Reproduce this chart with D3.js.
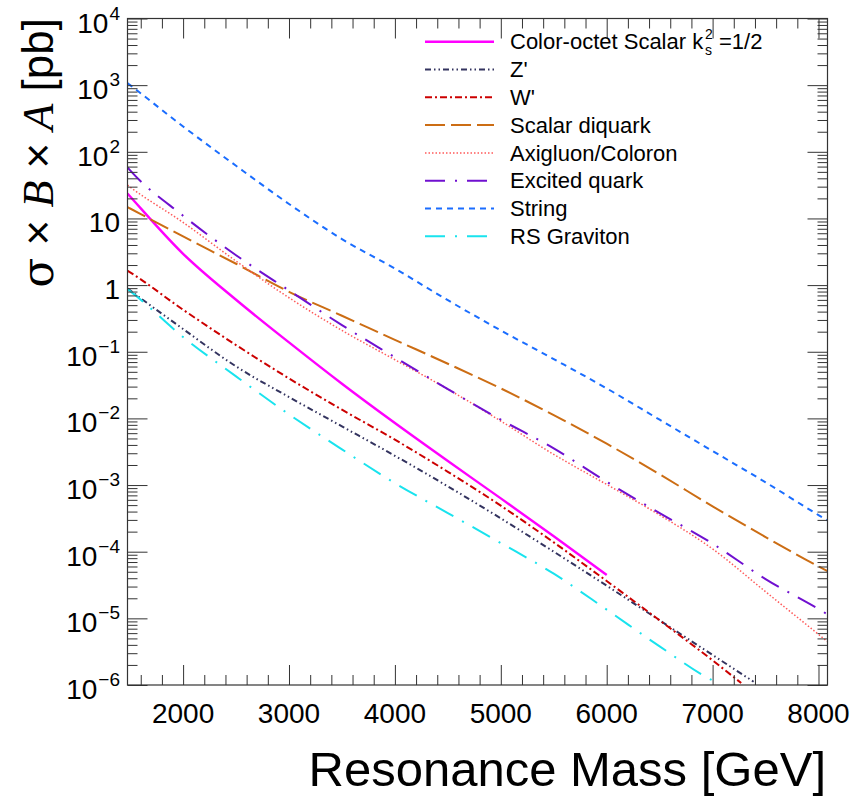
<!DOCTYPE html>
<html>
<head>
<meta charset="utf-8">
<script src="https://cdn.jsdelivr.net/npm/d3@7"></script>
<style>
  html, body { margin: 0; padding: 0; background: #fff; }
  svg { display: block; }
  text { font-family: "Liberation Sans", Arial, Helvetica, sans-serif; fill: #000; }
</style>
</head>
<body>
<svg id="chart" width="853" height="799"></svg>
<script>
// ---------------- data ----------------
const massOctet   = [1475, 1500, 2000, 2500, 3000, 3500, 4000, 4500, 5000, 5500, 6000];
const xsOctet     = [23.7, 21.4, 2.95, 0.603, 0.138, 0.0331, 8.51e-3, 2.29e-3, 6.31e-4, 1.70e-4, 4.47e-5];

const massZprime  = [1475, 1500, 2000, 2500, 3000, 3500, 4000, 4500, 5000, 5500, 6000, 6500, 7000, 7387];
const xsZprime    = [0.891, 0.832, 0.219, 0.0603, 0.0209, 7.59e-3, 2.75e-3, 9.55e-4, 3.16e-4, 1.0e-4, 3.09e-5, 9.33e-6, 2.82e-6, 1.12e-6];

const massWprime  = [1475, 1500, 2000, 2500, 3000, 3500, 4000, 4500, 5000, 5500, 6000, 6500, 7000, 7270];
const xsWprime    = [1.64, 1.55, 0.427, 0.126, 0.0398, 0.0135, 4.79e-3, 1.58e-3, 4.90e-4, 1.38e-4, 3.63e-5, 9.33e-6, 2.34e-6, 1.07e-6];

const massDiquark = [1475, 1500, 2000, 2500, 3000, 3500, 4000, 4500, 5000, 5500, 6000, 6500, 7000, 7500, 8000, 8085];
const xsDiquark   = [14.8, 14.1, 5.37, 2.09, 0.794, 0.347, 0.151, 0.0661, 0.0282, 0.0112, 4.17e-3, 1.45e-3, 4.79e-4, 1.66e-4, 6.03e-5, 5.13e-5];

const massAxi     = [1475, 1500, 2000, 2500, 3000, 3500, 4000, 4500, 5000, 5500, 6000, 6500, 7000, 7500, 8000, 8085];
const xsAxi       = [31.6, 29.5, 8.71, 2.29, 0.646, 0.209, 0.0759, 0.0275, 9.12e-3, 2.88e-3, 1.02e-3, 3.55e-4, 1.10e-4, 2.51e-5, 5.75e-6, 4.47e-6];

const massQstar   = [1475, 1500, 2000, 2500, 3000, 3500, 4000, 4500, 5000, 5500, 6000, 6500, 7000, 7500, 8000, 8085];
const xsQstar     = [58.2, 52.5, 11.0, 2.81, 0.832, 0.251, 0.0826, 0.0275, 9.55e-3, 3.55e-3, 1.12e-3, 3.80e-4, 1.32e-4, 3.89e-5, 1.38e-5, 1.15e-5];

const massString  = [1475, 1500, 2000, 2500, 3000, 3500, 4000, 4500, 5000, 5500, 6000, 6500, 7000, 7500, 8000, 8085];
const xsString    = [1072, 1000, 240, 61.7, 16.5, 4.9, 1.77, 0.593, 0.209, 0.0776, 0.0282, 9.55e-3, 3.24e-3, 1.10e-3, 3.55e-4, 2.95e-4];

const massRSG     = [1475, 1500, 2000, 2500, 3000, 3500, 4000, 4500, 5000, 5500, 6000, 6500, 7000, 7035];
const xsRSG       = [0.871, 0.813, 0.166, 0.0427, 0.0115, 3.43e-3, 1.07e-3, 3.80e-4, 1.35e-4, 4.68e-5, 1.35e-5, 3.80e-6, 1.17e-6, 1.10e-6];

const xMajorTicks = [2000, 3000, 4000, 5000, 6000, 7000, 8000];
const yExponents  = [-6, -5, -4, -3, -2, -1, 0, 1, 2, 3, 4];

// ---------------- layout ----------------
const svg = d3.select("#chart");
const L = 127.5, R = 827.5, T = 18.5, B = 685;

const x = d3.scaleLinear().domain([1475, 8085]).range([L, R]);
const y = d3.scaleLog().domain([1e-6, 1e4]).range([B, T]);

svg.append("rect").attr("width", 853).attr("height", 799).attr("fill", "#fff");

svg.append("defs").append("clipPath").attr("id", "plotclip")
  .append("rect").attr("x", L).attr("y", T).attr("width", R - L).attr("height", B - T);

const series = [
  { name: "octet",   mass: massOctet,   xs: xsOctet,   color: "#ff00ff", width: 2.4, dash: null },
  { name: "zprime",  mass: massZprime,  xs: xsZprime,  color: "#33335f", width: 2,   dash: "6,3,1.5,3,1.5,3" },
  { name: "wprime",  mass: massWprime,  xs: xsWprime,  color: "#cc0000", width: 2,   dash: "7,3,2,3" },
  { name: "diquark", mass: massDiquark, xs: xsDiquark, color: "#cc6d14", width: 2,   dash: "20,6" },
  { name: "axi",     mass: massAxi,     xs: xsAxi,     color: "#ff5a5a", width: 1.5, dash: "1.5,2" },
  { name: "qstar",   mass: massQstar,   xs: xsQstar,   color: "#7010d0", width: 2,   dash: "20,10,2,10" },
  { name: "string",  mass: massString,  xs: xsString,  color: "#1a6dff", width: 2,   dash: "6,5" },
  { name: "rsg",     mass: massRSG,     xs: xsRSG,     color: "#19e3ee", width: 2,   dash: "20,10,2,10" }
];

const line = d3.line()
  .x(d => x(d[0]))
  .y(d => y(d[1]))
  .curve(d3.curveMonotoneX);

const plot = svg.append("g").attr("clip-path", "url(#plotclip)");
series.forEach(s => {
  plot.append("path")
    .datum(s.mass.map((m, i) => [m, s.xs[i]]))
    .attr("fill", "none")
    .attr("stroke", s.color)
    .attr("stroke-width", s.width)
    .attr("stroke-dasharray", s.dash)
    .attr("d", line);
});

// ---------------- axes ----------------
const xMinor = d3.range(1600, 8001, 200).filter(v => !xMajorTicks.includes(v));
const yMajor = yExponents.map(e => Math.pow(10, e));
const yMinor = [];
yExponents.slice(0, -1).forEach(e => { for (let k = 2; k <= 9; k++) yMinor.push(k * Math.pow(10, e)); });

const axisColor = "#333";
function styleAxis(g) {
  g.select(".domain").remove();
  g.selectAll("line").attr("stroke", axisColor).attr("stroke-width", 1);
  g.selectAll("text").remove();
}
svg.append("g").attr("transform", `translate(0,${B})`).call(d3.axisBottom(x).tickValues(xMajorTicks).tickSize(-20)).call(styleAxis);
svg.append("g").attr("transform", `translate(0,${B})`).call(d3.axisBottom(x).tickValues(xMinor).tickSize(-10)).call(styleAxis);
svg.append("g").attr("transform", `translate(0,${T})`).call(d3.axisTop(x).tickValues(xMajorTicks).tickSize(-20)).call(styleAxis);
svg.append("g").attr("transform", `translate(0,${T})`).call(d3.axisTop(x).tickValues(xMinor).tickSize(-10)).call(styleAxis);
svg.append("g").attr("transform", `translate(${L},0)`).call(d3.axisLeft(y).tickValues(yMajor).tickSize(-20)).call(styleAxis);
svg.append("g").attr("transform", `translate(${L},0)`).call(d3.axisLeft(y).tickValues(yMinor).tickSize(-10)).call(styleAxis);
svg.append("g").attr("transform", `translate(${R},0)`).call(d3.axisRight(y).tickValues(yMajor).tickSize(-20)).call(styleAxis);
svg.append("g").attr("transform", `translate(${R},0)`).call(d3.axisRight(y).tickValues(yMinor).tickSize(-10)).call(styleAxis);

svg.append("rect").attr("x", L).attr("y", T).attr("width", R - L).attr("height", B - T)
  .attr("fill", "none").attr("stroke", axisColor).attr("stroke-width", 1.2);

// x tick labels
svg.append("g").selectAll("text").data(xMajorTicks).join("text")
  .attr("x", d => x(d)).attr("y", 723)
  .attr("text-anchor", "middle").attr("font-size", 28)
  .text(d => d);

// y tick labels
const yl = svg.append("g").selectAll("text").data(yExponents).join("text")
  .attr("x", 120).attr("y", e => y(Math.pow(10, e)) + 14)
  .attr("text-anchor", "end").attr("font-size", 28);
yl.each(function(e) {
  const t = d3.select(this);
  if (e === 0) { t.text("1"); return; }
  if (e === 1) { t.text("10"); return; }
  t.append("tspan").text("10");
  t.append("tspan").attr("font-size", 19).attr("dy", -13).attr("dx", 1).text(e < 0 ? "\u2212" + (-e) : String(e));
});

// axis titles
svg.append("text").attr("x", 826).attr("y", 786).attr("text-anchor", "end")
  .attr("font-size", 49).text("Resonance Mass [GeV]");

const yt = svg.append("text").attr("transform", "translate(53,18) rotate(-90)")
  .attr("text-anchor", "end").attr("font-size", 44);
yt.append("tspan").attr("font-family", "'DejaVu Serif', 'Liberation Serif', serif").text("\u03C3");
yt.append("tspan").text(" \u00D7 ");
yt.append("tspan").attr("font-family", "'Liberation Serif', 'Times New Roman', serif").attr("font-style", "italic").text("B");
yt.append("tspan").text(" \u00D7 ");
yt.append("tspan").attr("font-family", "'Liberation Serif', 'Times New Roman', serif").attr("font-style", "italic").text("A");
yt.append("tspan").text(" [pb]");

// ---------------- legend ----------------
const legendLabels = ["Color-octet Scalar k", "Z'", "W'", "Scalar diquark", "Axigluon/Coloron", "Excited quark", "String", "RS Graviton"];
const lg = svg.append("g");
series.forEach((s, i) => {
  const yy = 41.7 + i * 27.8;
  lg.append("line").attr("x1", 425).attr("x2", 494).attr("y1", yy).attr("y2", yy)
    .attr("stroke", s.color).attr("stroke-width", s.width).attr("stroke-dasharray", s.dash);
  lg.append("text").attr("x", 510).attr("y", yy + 7.6).attr("font-size", 22).text(legendLabels[i]);
  if (i === 0) {
    lg.append("text").attr("x", 705).attr("y", yy - 3).attr("font-size", 14).text("2");
    lg.append("text").attr("x", 705).attr("y", yy + 13).attr("font-size", 14).text("s");
    lg.append("text").attr("x", 719).attr("y", yy + 7.6).attr("font-size", 22).text("=1/2");
  }
});
</script>
</body>
</html>
